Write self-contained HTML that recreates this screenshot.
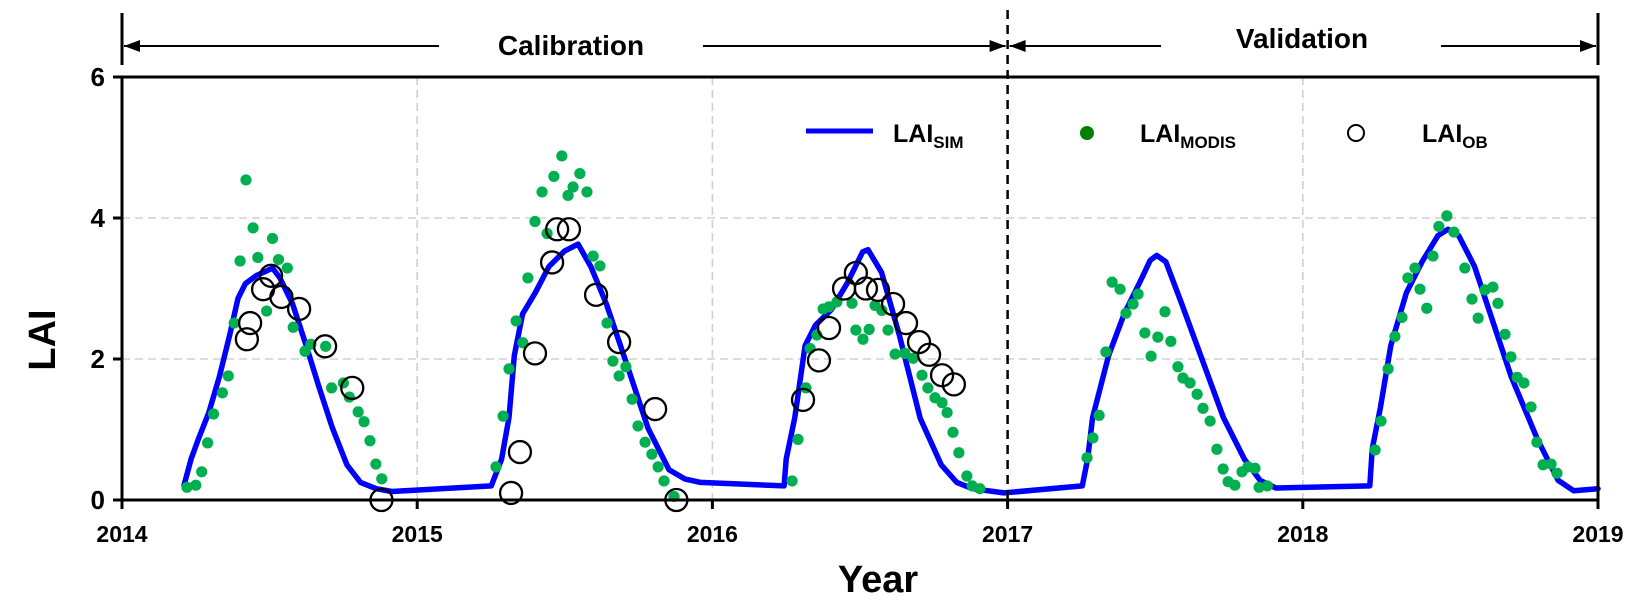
<!DOCTYPE html>
<html><head><meta charset="utf-8"><style>
html,body{margin:0;padding:0;background:#fff}
svg{display:block;font-family:"Liberation Sans",Arial,sans-serif}
</style></head><body>
<svg id="chart" width="1641" height="607" viewBox="0 0 1641 607">
<g id="grid"></g>
<g id="series"></g>
<g id="axes"></g>
<g id="annot"></g>
<g id="legend">
  <line x1="806" y1="131" x2="873" y2="131" stroke="#0000ff" stroke-width="5"/>
  <text x="893" y="142" font-size="25" font-weight="bold">LAI<tspan font-size="17" dy="6">SIM</tspan></text>
  <circle cx="1087" cy="133" r="7" fill="#008000"/>
  <text x="1140" y="142" font-size="25" font-weight="bold">LAI<tspan font-size="17" dy="6">MODIS</tspan></text>
  <circle cx="1356" cy="133" r="8" fill="none" stroke="#000" stroke-width="2"/>
  <text x="1422" y="142" font-size="25" font-weight="bold">LAI<tspan font-size="17" dy="6">OB</tspan></text>
</g>
</svg>
<script>
const xTicks = [2014, 2015, 2016, 2017, 2018, 2019];
const yTicks = [0, 2, 4, 6];
const simX = [2014.21,2014.234,2014.259,2014.294,2014.33,2014.365,2014.393,2014.418,2014.454,2014.51,2014.535,2014.578,2014.624,2014.666,2014.712,2014.762,2014.808,2014.861,2014.914,
2015.251,2015.286,2015.311,2015.329,2015.357,2015.40,2015.446,2015.499,2015.545,2015.588,2015.641,2015.712,2015.782,2015.853,2015.906,2015.96,
2016.243,2016.25,2016.279,2016.314,2016.349,2016.403,2016.456,2016.509,2016.527,2016.573,2016.633,2016.704,2016.775,2016.828,2016.881,2016.987,
2017.253,2017.271,2017.288,2017.342,2017.395,2017.448,2017.483,2017.505,2017.536,2017.59,2017.661,2017.731,2017.802,2017.855,2017.909,
2018.227,2018.235,2018.263,2018.298,2018.351,2018.404,2018.458,2018.492,2018.528,2018.582,2018.635,2018.706,2018.794,2018.865,2018.918,2019.0];
const simY = [0.21,0.58,0.87,1.24,1.75,2.34,2.86,3.07,3.18,3.29,3.15,2.78,2.19,1.62,1.03,0.50,0.25,0.16,0.12,
0.20,0.58,1.17,2.05,2.64,2.94,3.31,3.53,3.63,3.31,2.78,1.90,1.02,0.43,0.30,0.25,
0.20,0.58,1.17,2.19,2.48,2.70,3.07,3.52,3.55,3.23,2.34,1.16,0.50,0.25,0.16,0.10,
0.20,0.58,1.17,2.05,2.64,3.09,3.40,3.47,3.38,2.78,1.97,1.17,0.58,0.28,0.17,
0.20,0.72,1.31,2.19,2.94,3.38,3.75,3.84,3.75,3.31,2.64,1.75,0.87,0.28,0.13,0.16];
const modisX = [2014.22,2014.25,2014.27,2014.29,2014.31,2014.34,2014.36,2014.38,2014.40,2014.42,2014.444,2014.46,2014.49,2014.51,2014.53,2014.56,2014.58,2014.62,2014.64,2014.69,2014.71,2014.75,2014.77,2014.80,2014.82,2014.84,2014.86,2014.88,
2015.267,2015.291,2015.311,2015.335,2015.358,2015.375,2015.399,2015.423,2015.44,2015.463,2015.49,2015.511,2015.528,2015.551,2015.575,2015.596,2015.619,2015.643,2015.663,2015.684,2015.707,2015.728,2015.748,2015.772,2015.795,2015.816,2015.836,2015.87,
2016.27,2016.29,2016.317,2016.331,2016.354,2016.375,2016.395,2016.422,2016.473,2016.486,2016.51,2016.531,2016.551,2016.574,2016.595,2016.619,2016.652,2016.68,2016.71,2016.73,2016.754,2016.778,2016.795,2016.815,2016.835,2016.862,2016.88,2016.906,
2017.269,2017.289,2017.31,2017.333,2017.354,2017.381,2017.401,2017.425,2017.442,2017.465,2017.486,2017.509,2017.533,2017.553,2017.577,2017.594,2017.618,2017.642,2017.662,2017.686,2017.709,2017.73,2017.747,2017.77,2017.794,2017.814,2017.838,2017.852,2017.88,
2018.245,2018.265,2018.289,2018.312,2018.336,2018.356,2018.38,2018.397,2018.42,2018.441,2018.461,2018.488,2018.512,2018.549,2018.573,2018.594,2018.617,2018.644,2018.661,2018.685,2018.705,2018.726,2018.749,2018.773,2018.793,2018.814,2018.841,2018.861];
const modisY = [0.18,0.21,0.40,0.81,1.22,1.52,1.76,2.51,3.39,4.54,3.86,3.44,2.68,3.71,3.41,3.29,2.45,2.11,2.21,2.18,1.59,1.66,1.46,1.25,1.11,0.84,0.51,0.30,
0.47,1.19,1.86,2.54,2.23,3.15,3.95,4.37,3.78,4.59,4.88,4.32,4.44,4.63,4.37,3.46,3.32,2.51,1.97,1.76,1.89,1.43,1.05,0.82,0.65,0.47,0.27,0.05,
0.27,0.86,1.59,2.15,2.34,2.71,2.74,2.81,2.79,2.41,2.28,2.42,2.76,2.69,2.41,2.07,2.08,2.01,1.77,1.59,1.45,1.38,1.24,0.96,0.67,0.34,0.20,0.16,
0.60,0.88,1.20,2.10,3.09,2.99,2.65,2.78,2.92,2.37,2.04,2.31,2.67,2.25,1.89,1.73,1.66,1.50,1.30,1.12,0.72,0.44,0.26,0.21,0.40,0.47,0.45,0.18,0.20,
0.71,1.12,1.86,2.32,2.59,3.15,3.29,2.99,2.72,3.46,3.88,4.03,3.80,3.29,2.85,2.58,2.98,3.02,2.79,2.35,2.03,1.74,1.66,1.32,0.82,0.50,0.51,0.38];
const obX = [2014.423,2014.434,2014.478,2014.505,2014.54,2014.60,2014.688,2014.78,2014.879,
2015.318,2015.348,2015.399,2015.457,2015.474,2015.514,2015.606,2015.684,2015.806,2015.878,
2016.307,2016.361,2016.395,2016.446,2016.486,2016.52,2016.561,2016.612,2016.656,2016.70,2016.734,2016.778,2016.818];
const obY = [2.28,2.51,2.99,3.18,2.88,2.71,2.18,1.59,0.0,
0.10,0.68,2.08,3.37,3.84,3.84,2.91,2.24,1.29,0.0,
1.42,1.98,2.44,3.00,3.22,3.00,2.98,2.78,2.51,2.24,2.06,1.77,1.64];

const L=122,R=1598,T=77,B=500;
const sx=v=>L+(v-2014)/5*(R-L);
const sy=v=>B-v/6*(B-T);
const NS="http://www.w3.org/2000/svg";
function mk(tag,attrs,parent){const e=document.createElementNS(NS,tag);for(const k in attrs)e.setAttribute(k,attrs[k]);parent.appendChild(e);return e;}
const grid=document.getElementById('grid'),series=document.getElementById('series'),axes=document.getElementById('axes'),annot=document.getElementById('annot');

yTicks.forEach(t=>{ if(t>0&&t<6){const g=mk('line',{x1:L,x2:R,y1:sy(t),y2:sy(t),stroke:'#d0d0d0','stroke-width':1.6,'stroke-dasharray':'8,5'},grid);

}});
xTicks.forEach(t=>{ if(t>2014&&t<2019&&t!==2017){const g=mk('line',{x1:sx(t),x2:sx(t),y1:T,y2:B,stroke:'#d0d0d0','stroke-width':1.6,'stroke-dasharray':'8,5'},grid);

}});

let d='';simX.forEach((x,i)=>{d+=(i?'L':'M')+sx(x).toFixed(1)+','+sy(simY[i]).toFixed(1);});
const pl=mk('path',{d:d,fill:'none',stroke:'#0000ff','stroke-width':5.5,'stroke-linejoin':'round','stroke-linecap':'round'},series);


modisX.forEach((x,i)=>{const c=mk('circle',{cx:sx(x),cy:sy(modisY[i]),r:5.6,fill:'#00b050'},series);

});
obX.forEach((x,i)=>{const c=mk('circle',{cx:sx(x),cy:sy(obY[i]),r:11,fill:'none',stroke:'#000','stroke-width':2.3},series);

});

const fr=mk('rect',{x:L,y:T,width:R-L,height:B-T,fill:'none',stroke:'#000','stroke-width':3},axes);


yTicks.forEach(t=>{const tk=mk('line',{x1:L-9,x2:L,y1:sy(t),y2:sy(t),stroke:'#000','stroke-width':3},axes);


const tx=mk('text',{x:L-17,y:sy(t)+9,'text-anchor':'end','font-size':26,'font-weight':'bold'},axes);tx.textContent=t;

});
xTicks.forEach(t=>{const tk=mk('line',{x1:sx(t),x2:sx(t),y1:B,y2:B+9,stroke:'#000','stroke-width':3},axes);


const tx=mk('text',{x:sx(t),y:B+42,'text-anchor':'middle','font-size':23,'font-weight':'bold'},axes);tx.textContent=t;

});
const xt=mk('text',{x:878,y:592,'text-anchor':'middle','font-size':38,'font-weight':'bold'},axes);xt.textContent='Year';


const yt=mk('text',{x:0,y:0,'text-anchor':'middle','font-size':38,'font-weight':'bold',transform:'translate(55,340) rotate(-90)'},axes);yt.textContent='LAI';



const x17=sx(2017);
const dl=mk('line',{x1:x17,x2:x17,y1:10,y2:B,stroke:'#000','stroke-width':2.5,'stroke-dasharray':'9,6'},annot);


[[L,13,L,65],[R,13,R,65]].forEach((a,i)=>{const l=mk('line',{x1:a[0],y1:a[1],x2:a[2],y2:a[3],stroke:'#000','stroke-width':3},annot);

});
const segs=[[L+2,439,1],[703,x17-2,2],[x17+2,1161,1],[1441,R-2,2]];
segs.forEach(s=>{const l=mk('line',{x1:s[0],x2:s[1],y1:46,y2:46,stroke:'#000','stroke-width':2},annot);


let p; if(s[2]===1){p=`${s[0]},46 ${s[0]+16},40 ${s[0]+16},52`;}else{p=`${s[1]},46 ${s[1]-16},40 ${s[1]-16},52`;}
const h=mk('polygon',{points:p,fill:'#000'},annot);

});
const c1=mk('text',{x:571,y:55,'text-anchor':'middle','font-size':28,'font-weight':'bold'},annot);c1.textContent='Calibration';


const c2=mk('text',{x:1302,y:48,'text-anchor':'middle','font-size':28,'font-weight':'bold'},annot);c2.textContent='Validation';


</script>
</body></html>
